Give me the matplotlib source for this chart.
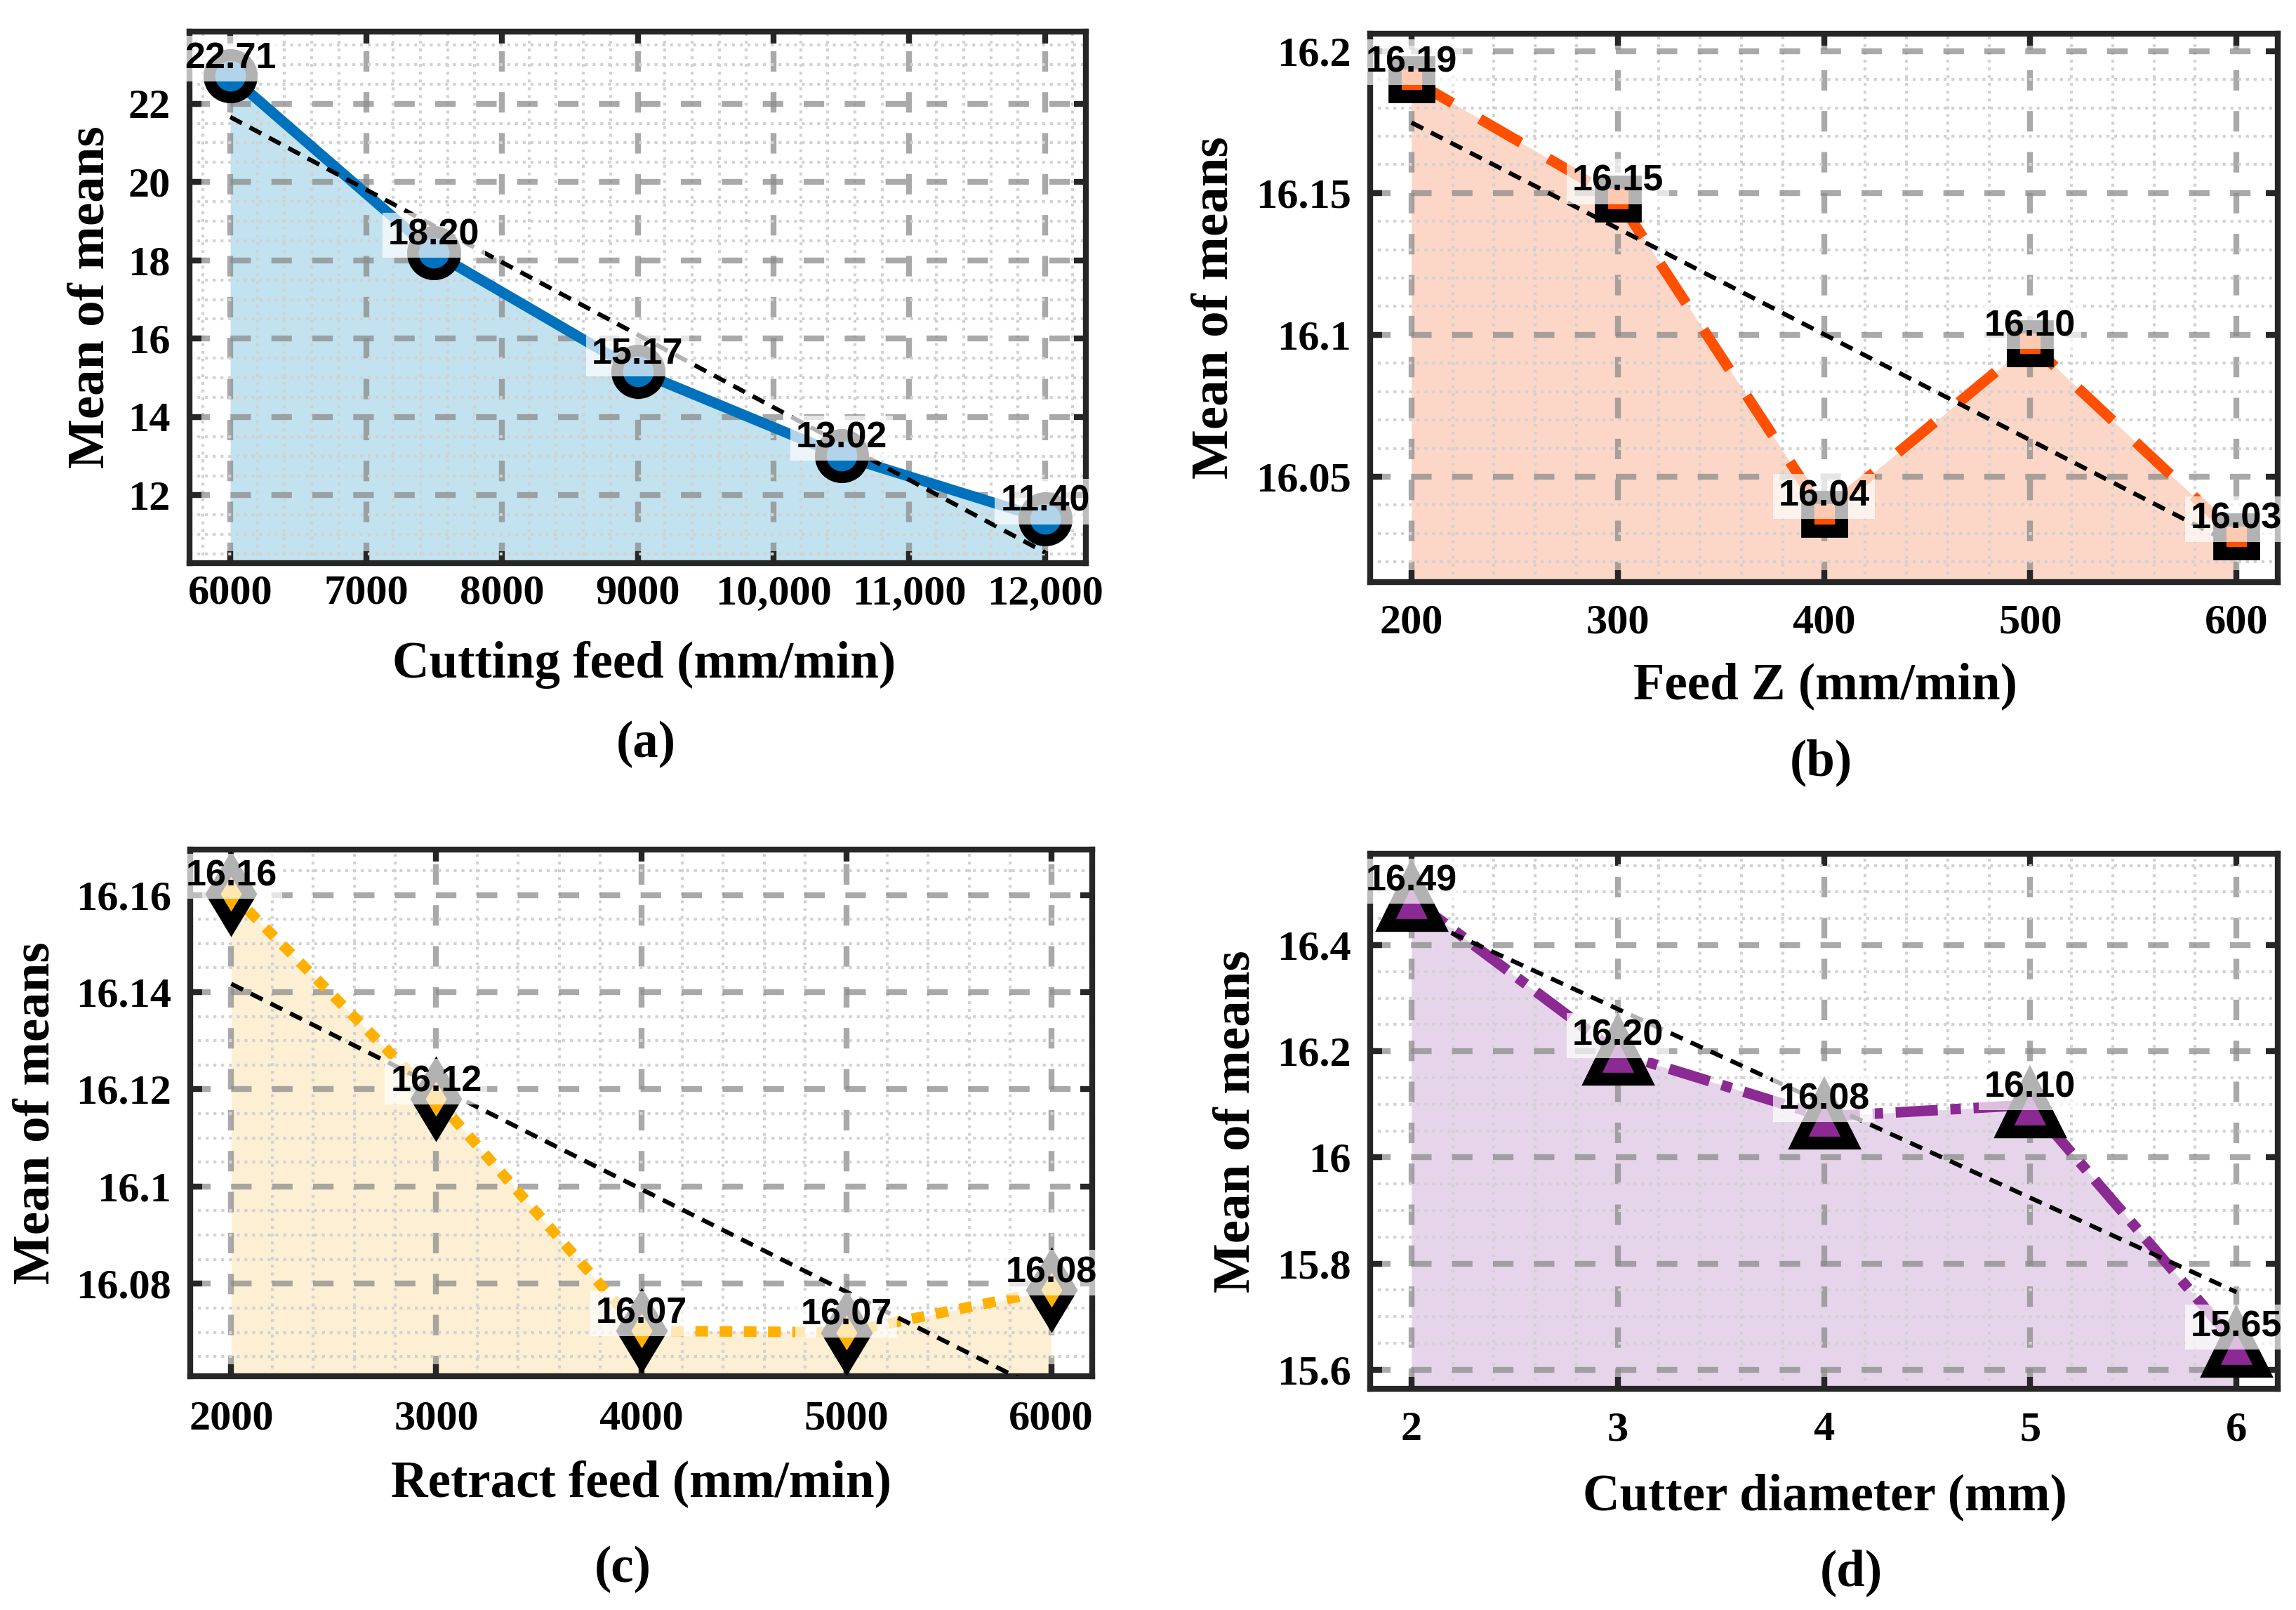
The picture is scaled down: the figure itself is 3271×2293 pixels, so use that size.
import numpy as np
import matplotlib
matplotlib.use('Agg')
import matplotlib.pyplot as plt
from matplotlib.ticker import MultipleLocator, AutoMinorLocator, FuncFormatter

# data
cut_feed = [6000, 7500, 9000, 10500, 12000]
cut_mean = [22.71, 18.20, 15.17, 13.02, 11.40]
cut_ticks = [6000, 7000, 8000, 9000, 10000, 11000, 12000]
cut_ticklabels = ['6000', '7000', '8000', '9000', '10,000', '11,000', '12,000']

feed_z = [200, 300, 400, 500, 600]
feed_z_mean = [16.190, 16.148, 16.037, 16.097, 16.029]

retract = [2000, 3000, 4000, 5000, 6000]
retract_mean = [16.1603, 16.118, 16.0703, 16.0700, 16.0787]

diameter = [2, 3, 4, 5, 6]
diameter_mean = [16.488, 16.197, 16.077, 16.099, 15.648]

SERIF = 'Liberation Serif'
SANS = 'Liberation Sans'
W, H = 3271, 2293

fig = plt.figure(figsize=(W / 300, H / 300), dpi=300)


def axes_px(l, t, r, b):
    return fig.add_axes([l / W, 1 - b / H, (r - l) / W, (b - t) / H])


def draw_panel(ax, x, y, color, fillc, ls, lw, marker, ms, mew, xstep, ystep, xpad):
    x = np.array(x, dtype=float)
    y = np.array(y, dtype=float)
    xr = x.max() - x.min()
    yr = y.max() - y.min()
    ax.set_xlim(x.min() - 0.05 * xr, x.max() + 0.05 * xr)
    ylo = y.min() - 0.1 * yr
    ax.set_ylim(ylo, y.max() + 0.1 * yr)

    ax.fill_between(x, y, ylo, color=fillc, lw=0, zorder=1)
    ax.plot(x, y, color=color, ls=ls, lw=lw, zorder=3, solid_capstyle='butt')
    k, b = np.polyfit(x, y, 1)
    ax.plot(x, k * x + b, color='black', ls=(0, (3, 2)), lw=1.5, zorder=3.5)
    ax.plot(x, y, ls='none', marker=marker, ms=ms, mfc=color, mec='black',
            mew=mew, zorder=4, clip_on=False)

    for xi, yi in zip(x, y):
        ax.text(xi, yi, '%.2f' % yi, ha='center', va='bottom', fontsize=12.5,
                fontweight='bold', family=SANS, zorder=6, clip_on=False,
                bbox=dict(boxstyle='square,pad=0.15', fc='white', ec='none', alpha=0.7))

    ax.xaxis.set_major_locator(MultipleLocator(xstep))
    ax.yaxis.set_major_locator(MultipleLocator(ystep))
    ax.xaxis.set_minor_locator(AutoMinorLocator())
    ax.yaxis.set_minor_locator(AutoMinorLocator())
    fmt = FuncFormatter(lambda v, p: '%g' % round(v, 6))
    ax.xaxis.set_major_formatter(fmt)
    ax.yaxis.set_major_formatter(fmt)

    ax.grid(which='major', ls=(0, (3.5, 3.5)), lw=2, color='#8c8c8c', alpha=0.75)
    ax.grid(which='minor', ls=':', lw=1.0, color='#d2d2d2')
    ax.tick_params(which='major', direction='in', top=True, right=True,
                   length=4, width=2, color='#262626', labelsize=14.5)
    ax.tick_params(axis='x', pad=xpad)
    ax.tick_params(axis='y', pad=6.5)
    ax.tick_params(which='minor', length=0)
    for lab in ax.get_xticklabels() + ax.get_yticklabels():
        lab.set_family(SERIF)
        lab.set_fontweight('bold')
    for s in ax.spines.values():
        s.set_linewidth(2)
        s.set_color('#262626')
        s.set_zorder(2.5)


ax_a = axes_px(270, 45, 1547, 802)
draw_panel(ax_a, cut_feed, cut_mean, '#0072BD', '#c2e2ef', '-', 3.6, 'o', 14.5, 4,
           1000, 2, 4)
ax_a.set_xticks(cut_ticks)
ax_a.set_xticklabels(cut_ticklabels, family=SERIF, fontweight='bold')

ax_b = axes_px(1952, 48, 3245, 829)
draw_panel(ax_b, feed_z, feed_z_mean, '#FF4F00', '#fcd6c6', (0, (4.5, 3)), 3.6, 's', 11.7, 4.5,
           100, 0.05, 7.5)

ax_c = axes_px(271, 1210, 1556, 1960)
draw_panel(ax_c, retract, retract_mean, '#FFB000', '#fdefd3', (0, (1.2, 1.1)), 3.6, 'd', 14.5, 4.5,
           1000, 0.02, 8.4)

ax_d = axes_px(1952, 1216, 3245, 1978)
draw_panel(ax_d, diameter, diameter_mean, '#8B2A92', '#e6d5ea', (0, (4, 1.2, 1, 1.2)), 3.6, '^', 18, 4.4,
           1, 0.2, 7.7)

# axis labels and panel captions
xlabels = [('Cutting feed (mm/min)', 918, 947), ('Feed Z (mm/min)', 2600, 977),
           ('Retract feed (mm/min)', 913, 2113), ('Cutter diameter (mm)', 2600, 2132)]
for txt, px, py in xlabels:
    fig.text(px / W, 1 - py / H, txt, ha='center', va='center', fontsize=17.5,
             fontweight='bold', family=SERIF)

ylabels = [(130, 423), (1730, 438), (51, 1585), (1762, 1597)]
for px, py in ylabels:
    fig.text(px / W, 1 - py / H, 'Mean of means', ha='center', va='center', rotation=90,
             fontsize=18, fontweight='bold', family=SERIF)

captions = [('(a)', 920, 1060), ('(b)', 2594, 1086), ('(c)', 887, 2235), ('(d)', 2637, 2240)]
for txt, px, py in captions:
    fig.text(px / W, 1 - py / H, txt, ha='center', va='center', fontsize=17.5,
             fontweight='bold', family=SERIF)

fig.savefig('out.png', dpi=300)
